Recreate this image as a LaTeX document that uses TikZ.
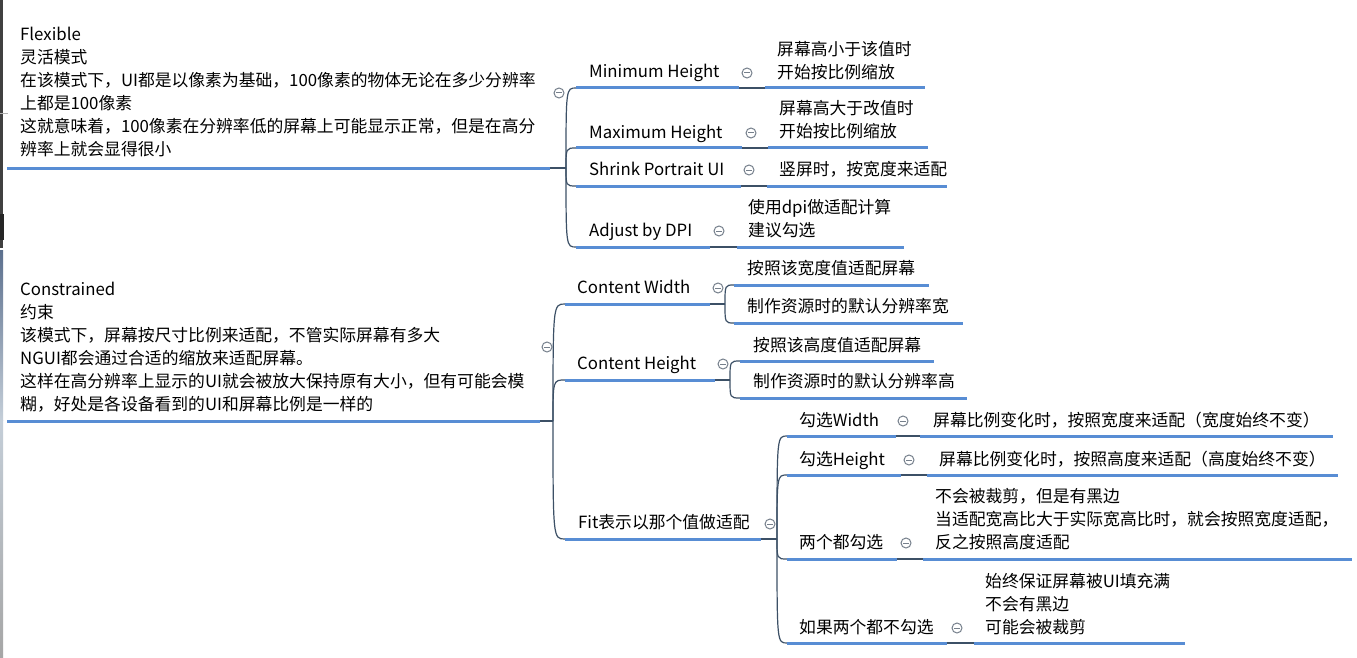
\documentclass[tikz,border=0pt]{standalone}
\usepackage{fontspec}
\setmainfont{Noto Sans CJK SC}
\definecolor{ublue}{RGB}{88,141,212}
\definecolor{connc}{RGB}{60,80,102}
\definecolor{circc}{RGB}{118,128,140}
\definecolor{edgedark}{RGB}{64,64,64}
\definecolor{edgeblue}{RGB}{92,112,142}
\definecolor{edgelight}{RGB}{196,206,216}
\begin{document}
\begin{tikzpicture}[x=1pt,y=-1pt,
  txt/.style={anchor=south west, inner sep=0pt, text depth=5pt, align=left,
    font=\fontsize{16.8}{23}\selectfont},
  uline/.style={draw=ublue, line width=3pt},
  cn/.style={draw=connc, line width=1.2pt},
  fold/.style={circle, draw=circc, line width=1pt, minimum size=10pt, inner sep=0pt,
    path picture={\draw[circc, line width=1pt]
      ([xshift=-2.6pt]path picture bounding box.center) --
      ([xshift=2.6pt]path picture bounding box.center);}}]
\useasboundingbox (0,0) rectangle (1357,658);
\fill[white] (0,0) rectangle (1357,658);
% screenshot edge
\fill[edgedark] (0,0) rectangle (3,248);
\fill[black!85] (0,214) rectangle (4,240);
\draw[gray!60, line width=0.8pt] (0,113) -- (8,113);
\shade[top color=edgeblue, bottom color=edgelight] (0,250) rectangle (3,420);
\shade[top color=edgelight, bottom color=gray!70] (0,420) rectangle (3,658);

% ---------- Flexible ----------
\node[txt] (flex) at (20,161) {Flexible\\灵活模式\\在该模式下，UI都是以像素为基础，100像素的物体无论在多少分辨率\\上都是100像素\\这就意味着，100像素在分辨率低的屏幕上可能显示正常，但是在高分\\辨率上就会显得很小};
\coordinate (flex-s) at (7,168); \coordinate (flex-e) at (550,168); \coordinate (flex-j) at (566,168);
\node[fold] (flex-f) at (559,93) {};

\node[txt] (minh) at (589,83) {Minimum Height};
\coordinate (minh-s) at (576,88); \coordinate (minh-e) at (739,88);
\node[fold] (minh-f) at (747,73) {};
\node[txt] (minhc) at (777,84) {屏幕高小于该值时\\开始按比例缩放};
\coordinate (minhc-s) at (765,88); \coordinate (minhc-e) at (925,88);

\node[txt] (maxh) at (589,144) {Maximum Height};
\coordinate (maxh-s) at (576,148); \coordinate (maxh-e) at (742,148);
\node[fold] (maxh-f) at (751,133) {};
\node[txt] (maxhc) at (779,143) {屏幕高大于改值时\\开始按比例缩放};
\coordinate (maxhc-s) at (768,148); \coordinate (maxhc-e) at (928,148);

\node[txt] (shr) at (589,181) {Shrink Portrait UI};
\coordinate (shr-s) at (576,186); \coordinate (shr-e) at (741,186);
\node[fold] (shr-f) at (749,170) {};
\node[txt] (shrc) at (779,181) {竖屏时，按宽度来适配};
\coordinate (shrc-s) at (767,186); \coordinate (shrc-e) at (947,186);

\node[txt] (dpi) at (589,242) {Adjust by DPI};
\coordinate (dpi-s) at (576,247); \coordinate (dpi-e) at (710,247);
\node[fold] (dpi-f) at (719,231) {};
\node[txt] (dpic) at (748,242) {使用dpi做适配计算\\建议勾选};
\coordinate (dpic-s) at (737,247); \coordinate (dpic-e) at (904,247);

% ---------- Constrained ----------
\node[txt] (con) at (20,416) {Constrained\\约束\\该模式下，屏幕按尺寸比例来适配，不管实际屏幕有多大\\NGUI都会通过合适的缩放来适配屏幕。\\这样在高分辨率上显示的UI就会被放大保持原有大小，但有可能会模\\糊，好处是各设备看到的UI和屏幕比例是一样的};
\coordinate (con-s) at (7,421); \coordinate (con-e) at (540,421); \coordinate (con-j) at (553,421);
\node[fold] (con-f) at (547,347) {};

\node[txt] (cw) at (577,299) {Content Width};
\coordinate (cw-s) at (565,304); \coordinate (cw-e) at (710,304); \coordinate (cw-j) at (725,304);
\node[fold] (cw-f) at (718,288) {};
\node[txt] (cwa) at (747,280) {按照该宽度值适配屏幕};
\coordinate (cwa-s) at (734,285); \coordinate (cwa-e) at (929,285);
\node[txt] (cwb) at (747,318) {制作资源时的默认分辨率宽};
\coordinate (cwb-s) at (734,323); \coordinate (cwb-e) at (963,323);

\node[txt] (ch) at (577,375) {Content Height};
\coordinate (ch-s) at (565,380); \coordinate (ch-e) at (715,380); \coordinate (ch-j) at (730,380);
\node[fold] (ch-f) at (723,364) {};
\node[txt] (cha) at (753,357) {按照该高度值适配屏幕};
\coordinate (cha-s) at (740,361); \coordinate (cha-e) at (934,361);
\node[txt] (chb) at (753,393) {制作资源时的默认分辨率高};
\coordinate (chb-s) at (740,398); \coordinate (chb-e) at (967,398);

\node[txt] (fit) at (578,534) {Fit表示以那个值做适配};
\coordinate (fit-s) at (565,539); \coordinate (fit-e) at (761,539); \coordinate (fit-j) at (777,539);
\node[fold] (fit-f) at (770,524) {};

\node[txt] (fw) at (799,432) {勾选Width};
\coordinate (fw-s) at (787,436); \coordinate (fw-e) at (896,436);
\node[fold] (fw-f) at (903,421) {};
\node[txt] (fwc) at (933,432) {屏幕比例变化时，按照宽度来适配（宽度始终不变）};
\coordinate (fwc-s) at (920,436); \coordinate (fwc-e) at (1333,436);

\node[txt] (fh) at (799,471) {勾选Height};
\coordinate (fh-s) at (787,475); \coordinate (fh-e) at (901,475);
\node[fold] (fh-f) at (909,460) {};
\node[txt] (fhc) at (939,471) {屏幕比例变化时，按照高度来适配（高度始终不变）};
\coordinate (fhc-s) at (927,475); \coordinate (fhc-e) at (1338,475);

\node[txt] (fb) at (799,554) {两个都勾选};
\coordinate (fb-s) at (787,559); \coordinate (fb-e) at (897,559);
\node[fold] (fb-f) at (906,543) {};
\node[txt] (fbc) at (935,554) {不会被裁剪，但是有黑边\\当适配宽高比大于实际宽高比时，就会按照宽度适配，\\反之按照高度适配};
\coordinate (fbc-s) at (923,559); \coordinate (fbc-e) at (1352,559);

\node[txt] (fn) at (799,639) {如果两个都不勾选};
\coordinate (fn-s) at (787,643); \coordinate (fn-e) at (947,643);
\node[fold] (fn-f) at (957,628) {};
\node[txt] (fnc) at (985,639) {始终保证屏幕被UI填充满\\不会有黑边\\可能会被裁剪};
\coordinate (fnc-s) at (974,643); \coordinate (fnc-e) at (1185,643);

% ---------- connectors ----------
\draw[cn] (flex-e) -- (flex-j);
\foreach \c in {minh,maxh,shr,dpi}
  \draw[cn] (flex-j) .. controls (flex-j |- \c-s) .. (\c-s);
\foreach \c in {minh,maxh,shr,dpi}
  \draw[cn] (\c-e) -- (\c c-s);

\draw[cn] (con-e) -- (con-j);
\foreach \c in {cw,ch,fit}
  \draw[cn] (con-j) .. controls (con-j |- \c-s) .. (\c-s);

\draw[cn] (cw-e) -- (cw-j);
\foreach \c in {cwa,cwb}
  \draw[cn] (cw-j) .. controls (cw-j |- \c-s) .. (\c-s);
\draw[cn] (ch-e) -- (ch-j);
\foreach \c in {cha,chb}
  \draw[cn] (ch-j) .. controls (ch-j |- \c-s) .. (\c-s);

\draw[cn] (fit-e) -- (fit-j);
\foreach \c in {fw,fh,fb,fn}
  \draw[cn] (fit-j) .. controls (fit-j |- \c-s) .. (\c-s);
\foreach \c in {fw,fh,fb,fn}
  \draw[cn] (\c-e) -- (\c c-s);

% ---------- underlines ----------
\foreach \n in {flex,minh,minhc,maxh,maxhc,shr,shrc,dpi,dpic,con,cw,cwa,cwb,ch,cha,chb,fit,fw,fwc,fh,fhc,fb,fbc,fn,fnc}
  \draw[uline] (\n-s) -- (\n-e);
\end{tikzpicture}
\end{document}
